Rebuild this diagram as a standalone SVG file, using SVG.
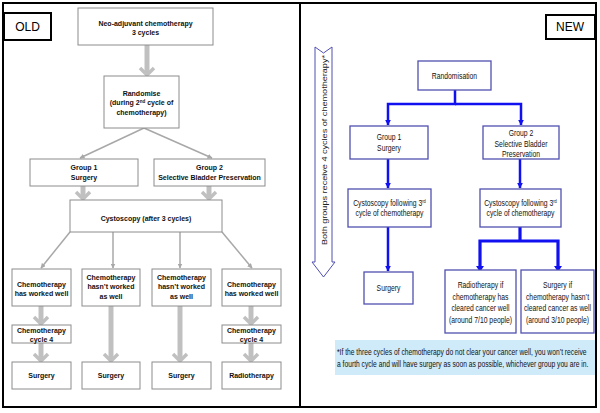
<svg xmlns="http://www.w3.org/2000/svg" width="600" height="413" viewBox="0 0 600 413">
<style>
.frame{fill:none;stroke:#000;stroke-width:2}
.tag{fill:#fff;stroke:#000;stroke-width:2}
.tagt{font-family:"Liberation Sans",Arial,sans-serif;font-size:12px;fill:#000;text-anchor:middle}
.ob{fill:#fff;stroke:#8c8c8c;stroke-width:1}
.ot{font-family:"Liberation Sans",Arial,sans-serif;font-size:7px;font-weight:bold;fill:#111;text-anchor:middle}
.nb{fill:#fff;stroke:#5050b0;stroke-width:1.3}
.nt{font-family:"Liberation Sans",Arial,sans-serif;font-size:8.5px;fill:#111;text-anchor:middle}
.gs{stroke:#c0c0c0;stroke-width:5;fill:none}
.gh{stroke:#c0c0c0;stroke-width:3.5;fill:none;stroke-linejoin:miter}
.gl{stroke:#a8a8a8;stroke-width:1.5;fill:none}
.bl{stroke:#1010f0;stroke-width:2.5;fill:none}
.bl3{stroke:#1010f0;stroke-width:3.2;fill:none}
.note{font-family:"Liberation Sans",Arial,sans-serif;font-size:8.5px;fill:#111}
</style>
<defs>
<marker id="ga" viewBox="0 0 10 10" refX="9" refY="5" markerWidth="5" markerHeight="5" orient="auto" markerUnits="userSpaceOnUse"><path d="M0,0 L10,5 L0,10 z" fill="#a8a8a8"/></marker>
<marker id="ba" viewBox="0 0 10 10" refX="9" refY="5" markerWidth="6" markerHeight="6" orient="auto" markerUnits="userSpaceOnUse"><path d="M0,0 L10,5 L0,10 z" fill="#1010f0"/></marker>
</defs>
<rect x="0" y="0" width="600" height="413" fill="#fff"/>
<rect class="frame" x="3" y="3" width="593" height="404"/>
<line x1="300" y1="3" x2="300" y2="407" stroke="#000" stroke-width="2"/>

<g id="connectors">
<g>
<line class="gs" x1="147" y1="45" x2="147" y2="74"/><polyline class="gh" points="140,68 147,75 154,68"/>
<line class="gs" x1="83" y1="186" x2="83" y2="198"/><polyline class="gh" points="76,192 83,199 90,192"/>
<line class="gs" x1="209" y1="186" x2="209" y2="198"/><polyline class="gh" points="202,192 209,199 216,192"/>
<line class="gs" x1="41" y1="306" x2="41" y2="323"/><polyline class="gh" points="34,317 41,324 48,317"/>
<line class="gs" x1="41" y1="343" x2="41" y2="360"/><polyline class="gh" points="34,354 41,361 48,354"/>
<line class="gs" x1="111" y1="306" x2="111" y2="360"/><polyline class="gh" points="104,354 111,361 118,354"/>
<line class="gs" x1="180" y1="306" x2="180" y2="360"/><polyline class="gh" points="173,354 180,361 187,354"/>
<line class="gs" x1="251" y1="306" x2="251" y2="323"/><polyline class="gh" points="244,317 251,324 258,317"/>
<line class="gs" x1="251" y1="343" x2="251" y2="360"/><polyline class="gh" points="244,354 251,361 258,354"/>
</g>
<line class="gl" x1="144" y1="128" x2="80" y2="158" marker-end="url(#ga)"/>
<line class="gl" x1="144" y1="128" x2="212" y2="158" marker-end="url(#ga)"/>
<line class="gl" x1="70" y1="232" x2="41" y2="268" marker-end="url(#ga)"/>
<line class="gl" x1="113" y1="232" x2="113" y2="268" marker-end="url(#ga)"/>
<line class="gl" x1="180" y1="232" x2="180" y2="268" marker-end="url(#ga)"/>
<line class="gl" x1="222" y1="232" x2="252" y2="268" marker-end="url(#ga)"/>
<polyline class="bl" points="455,90 455,104 388,104 388,125" marker-end="url(#ba)"/>
<polyline class="bl" points="455,104 521,104 521,125" marker-end="url(#ba)"/>
<line class="bl" x1="388" y1="159" x2="388" y2="188" marker-end="url(#ba)"/>
<line class="bl" x1="520" y1="159" x2="520" y2="188" marker-end="url(#ba)"/>
<line class="bl" x1="388" y1="227" x2="388" y2="271" marker-end="url(#ba)"/>
<line class="bl3" x1="520" y1="227" x2="520" y2="241"/>
<polyline class="bl3" points="480,269 480,241 558,241 558,269"/>
<path d="M476,266 L484,266 L480,272 z M554,266 L562,266 L558,272 z" fill="#1010f0"/>
</g>

<g id="old-tag"><rect class="tag" x="4" y="13" width="47" height="27"/><text class="tagt" x="27.5" y="31">OLD</text></g>
<g id="new-tag"><rect class="tag" x="546" y="15" width="49" height="24"/><text class="tagt" x="570" y="31">NEW</text></g>

<g id="neo"><rect class="ob" x="78" y="8" width="135" height="37"/><text class="ot" x="145.5" y="26">Neo-adjuvant chemotherapy</text><text class="ot" x="145.5" y="35">3 cycles</text></g>
<g id="randomise"><rect class="ob" x="104" y="76" width="75" height="52"/><text class="ot" x="141.5" y="96">Randomise</text><text class="ot" x="141.5" y="105">(during 2<tspan font-size="4.5px" dy="-2.5">nd</tspan><tspan dy="2.5"> cycle of</tspan></text><text class="ot" x="141.5" y="115">chemotherapy)</text></g>
<g id="old-group1"><rect class="ob" x="30" y="159" width="108" height="27"/><text class="ot" x="84" y="170">Group 1</text><text class="ot" x="84" y="180">Surgery</text></g>
<g id="old-group2"><rect class="ob" x="154" y="159" width="111" height="27"/><text class="ot" x="209.5" y="170">Group 2</text><text class="ot" x="209.5" y="180">Selective Bladder Preservation</text></g>
<g id="old-cysto"><rect class="ob" x="70" y="200" width="152" height="32"/><text class="ot" x="146" y="221">Cystoscopy (after 3 cycles)</text></g>

<g id="old-c1"><rect class="ob" x="12" y="269" width="59" height="37"/><text class="ot" x="41.5" y="287">Chemotherapy</text><text class="ot" x="41.5" y="296">has worked well</text></g>
<g id="old-c2"><rect class="ob" x="82" y="269" width="58" height="37"/><text class="ot" x="111" y="280">Chemotherapy</text><text class="ot" x="111" y="289">hasn’t worked</text><text class="ot" x="111" y="299">as well</text></g>
<g id="old-c3"><rect class="ob" x="152" y="269" width="59" height="37"/><text class="ot" x="181.5" y="280">Chemotherapy</text><text class="ot" x="181.5" y="289">hasn’t worked</text><text class="ot" x="181.5" y="299">as well</text></g>
<g id="old-c4"><rect class="ob" x="222" y="269" width="59" height="37"/><text class="ot" x="251.5" y="287">Chemotherapy</text><text class="ot" x="251.5" y="296">has worked well</text></g>

<g id="old-cyc1"><rect class="ob" x="12" y="325" width="59" height="18"/><text class="ot" x="41.5" y="333">Chemotherapy</text><text class="ot" x="41.5" y="342">cycle 4</text></g>
<g id="old-cyc4"><rect class="ob" x="222" y="325" width="59" height="18"/><text class="ot" x="251.5" y="333">Chemotherapy</text><text class="ot" x="251.5" y="342">cycle 4</text></g>

<g id="old-s1"><rect class="ob" x="12" y="362" width="59" height="27"/><text class="ot" x="41.5" y="378">Surgery</text></g>
<g id="old-s2"><rect class="ob" x="82" y="362" width="58" height="27"/><text class="ot" x="111" y="378">Surgery</text></g>
<g id="old-s3"><rect class="ob" x="152" y="362" width="59" height="27"/><text class="ot" x="181.5" y="378">Surgery</text></g>
<g id="old-r4"><rect class="ob" x="222" y="362" width="59" height="27"/><text class="ot" x="251.5" y="378">Radiotherapy</text></g>

<g id="both-arrow">
<path d="M315,47 L323.5,53 L332,47 L332,262 L335,262 L323.5,277 L312,262 L315,262 Z" fill="#fff" stroke="#5050b0" stroke-width="1"/>
<text transform="translate(327,245) rotate(-90)" font-family="'Liberation Sans',Arial,sans-serif" font-size="8px" fill="#222" textLength="190" lengthAdjust="spacingAndGlyphs">Both groups receive 4 cycles of chemotherapy*</text>
</g>

<g id="randomisation"><rect class="nb" x="418" y="61" width="73" height="29"/><text class="nt" transform="translate(454.5,79) scale(0.8,1)">Randomisation</text></g>
<g id="new-group1"><rect class="nb" x="350" y="126" width="78" height="33"/><text class="nt" transform="translate(389,140) scale(0.8,1)">Group 1</text><text class="nt" transform="translate(389,151) scale(0.8,1)">Surgery</text></g>
<g id="new-group2"><rect class="nb" x="483" y="126" width="76" height="33"/><text class="nt" transform="translate(521,136) scale(0.8,1)">Group 2</text><text class="nt" transform="translate(521,147) scale(0.8,1)">Selective Bladder</text><text class="nt" transform="translate(521,157) scale(0.8,1)">Preservation</text></g>
<g id="new-cysto1"><rect class="nb" x="348" y="189" width="83" height="38"/><text class="nt" transform="translate(389.5,206) scale(0.8,1)">Cystoscopy following 3<tspan font-size="5px" dy="-3">rd</tspan></text><text class="nt" transform="translate(389.5,216) scale(0.8,1)">cycle of chemotherapy</text></g>
<g id="new-cysto2"><rect class="nb" x="480" y="189" width="81" height="38"/><text class="nt" transform="translate(520.5,206) scale(0.8,1)">Cystoscopy following 3<tspan font-size="5px" dy="-3">rd</tspan></text><text class="nt" transform="translate(520.5,216) scale(0.8,1)">cycle of chemotherapy</text></g>
<g id="new-surgery"><rect class="nb" x="364" y="272" width="49" height="32"/><text class="nt" transform="translate(388.5,291) scale(0.8,1)">Surgery</text></g>
<g id="new-radio"><rect class="nb" x="445" y="270" width="71" height="63"/><text class="nt" transform="translate(480.5,288) scale(0.8,1)">Radiotherapy if</text><text class="nt" transform="translate(480.5,300) scale(0.8,1)">chemotherapy has</text><text class="nt" transform="translate(480.5,311) scale(0.8,1)">cleared cancer well</text><text class="nt" transform="translate(480.5,323) scale(0.8,1)">(around 7/10 people)</text></g>
<g id="new-surgeryif"><rect class="nb" x="521" y="270" width="73" height="63"/><text class="nt" transform="translate(557.5,288) scale(0.8,1)">Surgery if</text><text class="nt" transform="translate(557.5,300) scale(0.8,1)">chemotherapy hasn’t</text><text class="nt" transform="translate(557.5,311) scale(0.8,1)">cleared cancer as well</text><text class="nt" transform="translate(557.5,323) scale(0.8,1)">(around 3/10 people)</text></g>

<g id="note">
<rect x="335" y="340" width="260" height="35" fill="#cfeaf8"/>
<text class="note" transform="translate(337,355) scale(0.79,1)">*If the three cycles of chemotherapy do not clear your cancer well, you won’t receive</text>
<text class="note" transform="translate(337,367) scale(0.79,1)">a fourth cycle and will have surgery as soon as possible, whichever group you are in.</text>
</g>
</svg>
